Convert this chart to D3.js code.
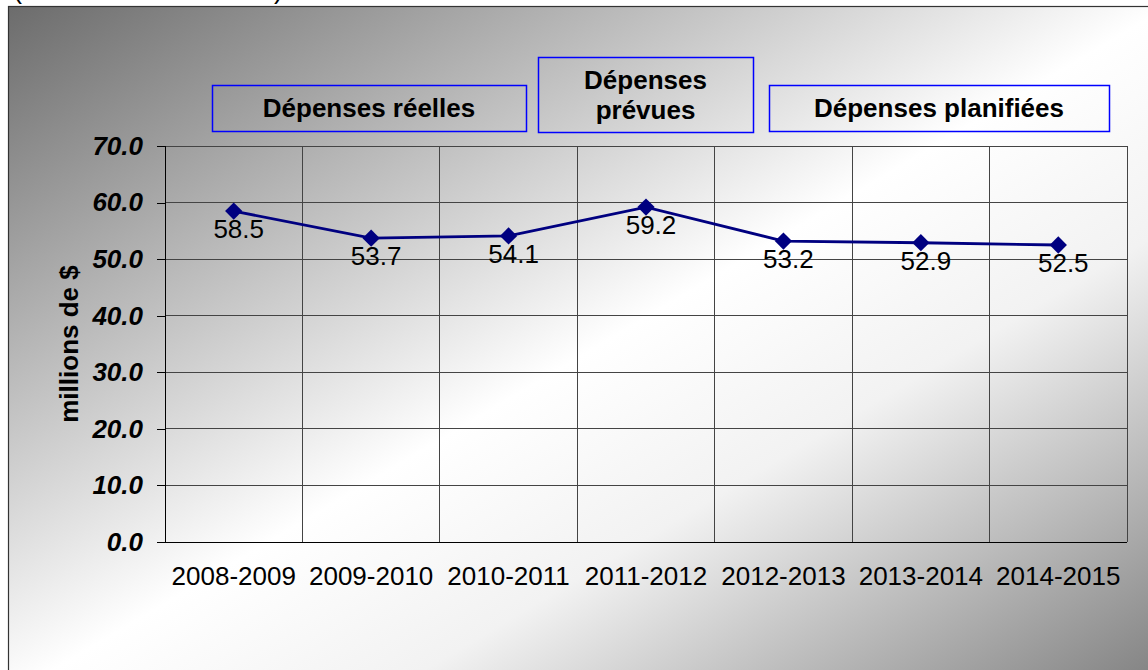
<!DOCTYPE html>
<html>

<head>
    <meta charset="utf-8">
    <title>Dépenses</title>
    <script src="https://cdn.jsdelivr.net/npm/d3@7"></script>
    <style type="text/css">
        body {
            margin: 0;
            background-color: white;
        }
        svg {
            display: block;
            font-family: Arial, "Liberation Sans", sans-serif;
        }
        .axis path {
            display: none;
        }
        .axis line {
            stroke: black;
            shape-rendering: crispEdges;
        }
        .y.axis text {
            font-size: 26px;
            font-weight: bold;
            font-style: italic;
            fill: black;
        }
        .x.axis text {
            font-size: 26px;
            fill: black;
        }
        .grid line {
            stroke: #444;
            stroke-width: 1;
            shape-rendering: crispEdges;
        }
        .phase text {
            font-size: 26px;
            font-weight: bold;
        }
    </style>
</head>

<body>
    <script>
        // exercices
        var years = ["2008-2009", "2009-2010", "2010-2011", "2011-2012",
                     "2012-2013", "2013-2014", "2014-2015"];
        // dépenses, en millions de $
        var spending = [58.5, 53.7, 54.1, 59.2, 53.2, 52.9, 52.5];
        var yTicks = [0, 10, 20, 30, 40, 50, 60, 70];
        // the three phase boxes above the plot
        var phases = [
            { lines: ["Dépenses réelles"] },
            { lines: ["Dépenses", "prévues"] },
            { lines: ["Dépenses planifiées"] }
        ];

        var w = 1148;
        var h = 670;
        var plot = { left: 165, right: 1127, top: 146, bottom: 542 };

        var svg = d3.select("body")
            .append("svg")
            .attr("width", w)
            .attr("height", h);

        // diagonal grey -> white -> grey background
        var grad = svg.append("defs")
            .append("linearGradient")
            .attr("id", "bg")
            .attr("x1", 0).attr("y1", 0)
            .attr("x2", 1).attr("y2", 1);
        grad.append("stop").attr("offset", 0).attr("stop-color", "#6c6c6c");
        grad.append("stop").attr("offset", 0.5).attr("stop-color", "#ffffff");
        grad.append("stop").attr("offset", 0.66).attr("stop-color", "#f2f2f2");
        grad.append("stop").attr("offset", 1).attr("stop-color", "#7c7c7c");

        svg.append("rect")
            .attr("x", 8.5)
            .attr("y", 6.5)
            .attr("width", 1160)
            .attr("height", 690)
            .attr("fill", "url(#bg)")
            .attr("stroke", "#333")
            .attr("stroke-width", 1.2);

        // title, cut off by the top of the picture as in the original
        svg.append("text")
            .attr("x", 13)
            .attr("y", -2)
            .attr("font-size", 27)
            .text("(en millions de dollars)");

        var xScale = d3.scaleBand()
            .domain(years)
            .range([plot.left, plot.right]);

        var yScale = d3.scaleLinear()
            .domain([0, 70])
            .range([plot.bottom, plot.top]);

        // grid
        var grid = svg.append("g").attr("class", "grid");
        grid.selectAll("line.h")
            .data(yTicks)
            .enter()
            .append("line")
            .attr("class", "h")
            .attr("x1", plot.left)
            .attr("x2", plot.right)
            .attr("y1", function(d) { return yScale(d); })
            .attr("y2", function(d) { return yScale(d); });

        grid.selectAll("line.v")
            .data(years)
            .enter()
            .append("line")
            .attr("class", "v")
            .attr("x1", function(d) { return xScale(d) + xScale.bandwidth(); })
            .attr("x2", function(d) { return xScale(d) + xScale.bandwidth(); })
            .attr("y1", plot.top)
            .attr("y2", plot.bottom);

        // y axis
        var yAxis = d3.axisLeft(yScale)
            .tickValues(yTicks)
            .tickFormat(d3.format(".1f"))
            .tickSizeInner(8)
            .tickSizeOuter(0)
            .tickPadding(14);

        svg.append("g")
            .attr("class", "y axis")
            .attr("transform", "translate(" + plot.left + ",0)")
            .call(yAxis);

        svg.append("line")
            .attr("x1", plot.left).attr("x2", plot.left)
            .attr("y1", plot.top).attr("y2", plot.bottom)
            .attr("stroke", "black")
            .attr("shape-rendering", "crispEdges");

        // x axis
        var xAxis = d3.axisBottom(xScale)
            .tickSize(0)
            .tickPadding(25);

        svg.append("g")
            .attr("class", "x axis")
            .attr("transform", "translate(0," + plot.bottom + ")")
            .call(xAxis);

        svg.append("line")
            .attr("x1", plot.left).attr("x2", plot.right)
            .attr("y1", plot.bottom).attr("y2", plot.bottom)
            .attr("stroke", "black")
            .attr("shape-rendering", "crispEdges");

        // axis title
        svg.append("text")
            .attr("transform", "translate(78," + ((plot.top + plot.bottom) / 2) + ") rotate(-90)")
            .attr("text-anchor", "middle")
            .attr("font-size", 26)
            .attr("font-weight", "bold")
            .text("millions de $");

        // line + markers
        var cx = function(d, i) { return xScale(years[i]) + xScale.bandwidth() / 2; };

        var line = d3.line()
            .x(cx)
            .y(function(d) { return yScale(d); });

        svg.append("path")
            .datum(spending)
            .attr("d", line)
            .attr("fill", "none")
            .attr("stroke", "#000080")
            .attr("stroke-width", 2.8);

        svg.append("g")
            .selectAll("path")
            .data(spending)
            .enter()
            .append("path")
            .attr("d", d3.symbol().type(d3.symbolDiamond2).size(190))
            .attr("transform", function(d, i) {
                return "translate(" + cx(d, i) + "," + yScale(d) + ")";
            })
            .attr("fill", "#000080");

        svg.append("g")
            .selectAll("text")
            .data(spending)
            .enter()
            .append("text")
            .attr("x", function(d, i) { return cx(d, i) + 5; })
            .attr("y", function(d) { return yScale(d) + 27; })
            .attr("text-anchor", "middle")
            .attr("font-size", 26)
            .text(function(d) { return d.toFixed(1); });

        // phase boxes
        var boxes = svg.append("g")
            .attr("class", "phase")
            .selectAll("g")
            .data(phases)
            .enter()
            .append("g");

        var boxX0 = [212, 538, 769];
        var boxX1 = [526, 753, 1109];
        var boxY0 = [85, 57, 85];
        var boxY1 = [131, 132, 131];

        boxes.append("rect")
            .attr("x", function(d, i) { return boxX0[i] + 0.5; })
            .attr("y", function(d, i) { return boxY0[i] + 0.5; })
            .attr("width", function(d, i) { return boxX1[i] - boxX0[i]; })
            .attr("height", function(d, i) { return boxY1[i] - boxY0[i]; })
            .attr("fill", "none")
            .attr("stroke", "#0000ff")
            .attr("stroke-width", 1.5);

        boxes.each(function(d, i) {
            var g = d3.select(this);
            var mid = (boxY0[i] + boxY1[i]) / 2;
            var n = d.lines.length;
            d.lines.forEach(function(t, k) {
                g.append("text")
                    .attr("x", (boxX0[i] + boxX1[i]) / 2)
                    .attr("y", mid + (k - (n - 1) / 2) * 30 + 9)
                    .attr("text-anchor", "middle")
                    .text(t);
            });
        });
    </script>
</body>
</html>
